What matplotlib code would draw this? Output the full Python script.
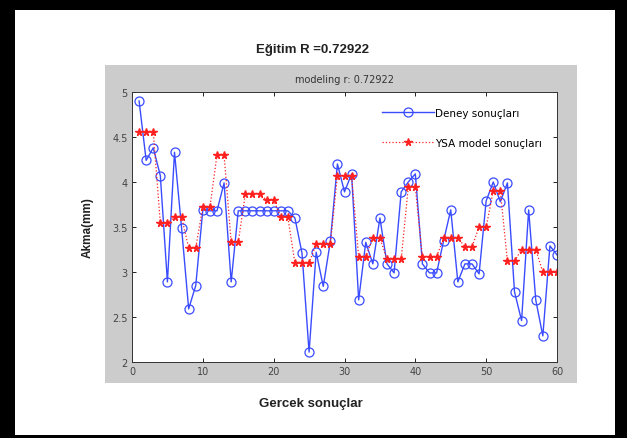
import numpy as np
import matplotlib
matplotlib.use("Agg")
import matplotlib.pyplot as plt
from matplotlib.patches import Rectangle

# veri
ornek = np.arange(1, 61)
deney = [4.90, 4.24, 4.38, 4.07, 2.89, 4.33, 3.49, 2.59, 2.85, 3.69,
         3.68, 3.68, 3.99, 2.89, 3.68, 3.68, 3.68, 3.68, 3.68, 3.68,
         3.68, 3.68, 3.60, 3.21, 2.11, 3.22, 2.84, 3.34, 4.20, 3.89,
         4.09, 2.69, 3.33, 3.09, 3.60, 3.09, 2.99, 3.89, 4.00, 4.09,
         3.09, 2.99, 2.99, 3.35, 3.69, 2.89, 3.09, 3.09, 2.98, 3.79,
         4.00, 3.78, 3.99, 2.78, 2.46, 3.69, 2.69, 2.29, 3.29, 3.19]
ysa = [4.56, 4.56, 4.56, 3.54, 3.54, 3.61, 3.61, 3.27, 3.27, 3.72,
       3.72, 4.30, 4.30, 3.33, 3.33, 3.87, 3.87, 3.87, 3.80, 3.80,
       3.61, 3.61, 3.10, 3.10, 3.10, 3.31, 3.31, 3.31, 4.07, 4.07,
       4.07, 3.17, 3.17, 3.38, 3.38, 3.14, 3.14, 3.14, 3.94, 3.94,
       3.17, 3.17, 3.17, 3.38, 3.38, 3.38, 3.28, 3.28, 3.50, 3.50,
       3.90, 3.90, 3.12, 3.12, 3.25, 3.25, 3.25, 3.00, 3.00, 3.00]
y_ticks = [2, 2.5, 3, 3.5, 4, 4.5, 5]
x_ticks = [0, 10, 20, 30, 40, 50, 60]

W, H = 627, 439
fig = plt.figure(figsize=(W / 100, H / 100), dpi=100)
fig.patch.set_facecolor("white")

def kutu(x0, y0, x1, y1, renk):
    # piksel koordinatlarindan (ust-sol orijin) dikdortgen
    fig.add_artist(Rectangle((x0 / W, 1 - y1 / H), (x1 - x0) / W, (y1 - y0) / H,
                             transform=fig.transFigure, facecolor=renk,
                             edgecolor="none", zorder=0))

# siyah cerceve
kutu(0, 0, W, 11, "black")
kutu(0, 0, 15, H, "black")
kutu(615, 0, W, H, "black")
kutu(0, 436, W, H, "black")
# gri matlab paneli
kutu(105, 66, 577, 384, "#cccccc")

ax = fig.add_axes([132 / W, 1 - 363 / H, (557 - 132) / W, (363 - 93) / H])
ax.set_zorder(2)
ax.plot(ornek, deney, "-o", color="#3a4cff", lw=1, ms=6.5, mfc="none",
        mew=0.9, label="Deney sonuçları")
ax.plot(ornek, ysa, ":*", color="#ff2020", lw=0.9, ms=5.5, mew=1,
        label="YSA model sonuçları")
ax.set_xlim(0, 60)
ax.set_ylim(2, 5)
ax.set_xticks(x_ticks)
ax.set_yticks(y_ticks)
ax.set_yticklabels(["%g" % v for v in y_ticks])
ax.tick_params(direction="in", top=True, right=True, length=3, width=0.6,
               labelsize=7, labelcolor="#444444", pad=3)
for s in ax.spines.values():
    s.set_linewidth(0.7)
    s.set_color("#333333")
ax.set_title("modeling r: 0.72922", fontsize=7, color="#333333", pad=7)
ax.legend(loc="upper left", bbox_to_anchor=(0.565, 0.975), frameon=False,
          fontsize=7.5, handlelength=5.0, labelspacing=1.9, handletextpad=0.1)

baslik_font = ["Liberation Sans", "DejaVu Sans"]
fig.text(313 / W, 1 - 50 / H, "Eğitim R =0.72922", ha="center", va="center",
         fontsize=9.5, fontweight="bold", family=baslik_font, color="#222222")
fig.text(311 / W, 1 - 404 / H, "Gercek sonuçlar", ha="center", va="center",
         fontsize=9.5, fontweight="bold", family=baslik_font, color="#222222")
fig.text(88 / W, 1 - 228 / H, "Akma(mm)", ha="center", va="center",
         rotation=90, fontsize=8.5, fontweight="bold", family=baslik_font,
         color="#222222")

fig.savefig("out.png", dpi=100)
